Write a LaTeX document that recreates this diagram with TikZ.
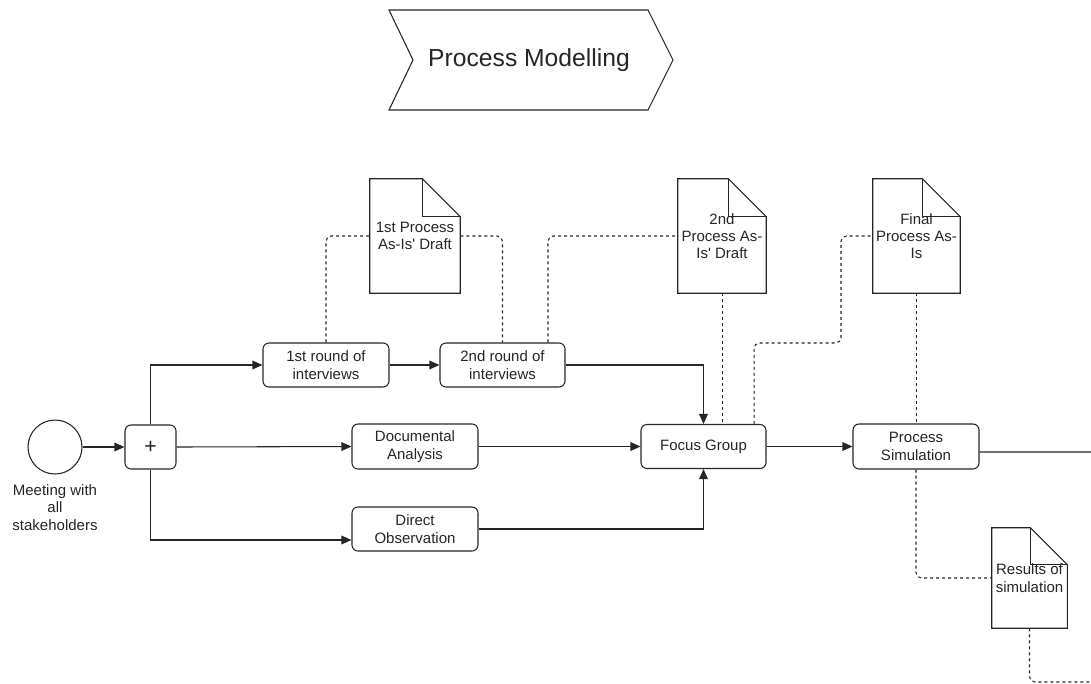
\documentclass[tikz,border=0pt]{standalone}
\usepackage{fontspec}
\setmainfont{Liberation Sans}[Ligatures=TeXOff]
\usetikzlibrary{arrows.meta,calc}
\tikzset{
 base/.style={font=\fontsize{11.25}{13}\selectfont, text=black!85, align=center},
 task/.style={base, draw=black!85, rounded corners=4.5pt, minimum width=94.5pt, minimum height=33pt, inner sep=0pt, line width=0.8pt},
 docnode/.style={base, inner sep=0pt},
 docline/.style={draw=black!85, line width=0.8pt},
 flow/.style={draw=black!85, line width=0.8pt, -{Triangle[length=7.5pt,width=6.5pt]}},
 plainflow/.style={draw=black!85, line width=0.8pt},
 assoc/.style={draw=black!85, line width=0.8pt, dash pattern=on 2.25pt off 2.25pt, rounded corners=4pt},
}
\newcommand{\docshape}[2]{%
 \draw[docline] (#1.north west) -- ([xshift=-#2]#1.north east) -- ([yshift=-#2]#1.north east) -- (#1.south east) -- (#1.south west) -- cycle;
 \draw[docline] ([xshift=-#2]#1.north east) |- ([yshift=-#2]#1.north east);}
\begin{document}
\begin{tikzpicture}[x=0.75pt,y=-0.75pt]
\path[fill=white,use as bounding box] (0,0) rectangle (1091,683);

% title chevron
\draw[docline] (389,10) -- (648,10) -- (673,60) -- (648,110) -- (389,110) -- (413,60) -- cycle;
\node[base, font=\fontsize{18.5}{22}\selectfont] (title) at (529,60) {Process Modelling};

% start event and gateway
\node[draw=black!85, line width=0.8pt, circle, minimum size=40.5pt, inner sep=0pt] (start) at (55,447) {};
\node[base, anchor=north] (startlbl) at (55,480) {Meeting with\\all\\stakeholders};
\node[task, minimum width=38.25pt, minimum height=33pt, font=\fontsize{16}{18}\selectfont] (gw) at (150.5,447) {+};

% tasks
\node[task] (r1) at (326,365) {1st round of\\interviews};
\node[task, minimum width=93.75pt] (r2) at (502.5,365) {2nd round of\\interviews};
\node[task, minimum height=33.75pt] (da) at (415,446.5) {Documental\\Analysis};
\node[task] (dob) at (415,529) {Direct\\Observation};
\node[task, minimum width=93.75pt] (fg) at (703.5,446.5) {Focus Group};
\node[task, minimum height=33.75pt] (ps) at (916,446.5) {Process\\Simulation};

% documents
\node[docnode, minimum width=67.5pt, minimum height=85.5pt] (d1) at (415,236) {1st Process\\As-Is' Draft};
\node[docnode, minimum width=66pt, minimum height=85.5pt] (d2) at (722,236) {2nd\\Process As-\\Is' Draft};
\node[docnode, minimum width=65.25pt, minimum height=85.5pt] (d3) at (916.5,236) {Final\\Process As-\\Is};
\node[docnode, minimum width=56.25pt, minimum height=75pt] (d4) at (1029.5,578) {Results of\\simulation};
\docshape{d1}{28.5pt}
\docshape{d2}{28.5pt}
\docshape{d3}{28.5pt}
\docshape{d4}{27.75pt}

% free ends
\coordinate (psout) at (1091,452);
\coordinate (d4out) at (1091,682);
\coordinate (bend1) at (841,343);

% sequence flows
\draw[flow] (start) -- (gw);
\draw[flow] (gw.north) |- (r1.west);
\draw[flow] (gw.east) -- (da.west);
\draw[flow] (gw.south) |- ([yshift=-8.25pt]dob.west);
\draw[flow] (r1.east) -- (r2.west);
\draw[flow] (r2.east) -| (fg.north);
\draw[flow] (da.east) -- (da.east -| fg.west);
\draw[flow] (dob.east) -| (fg.south);
\draw[flow] (fg.east) -- (fg.east -| ps.west);
\draw[plainflow] ([yshift=-4.1pt]ps.east) -- (psout);

% associations
\draw[assoc] (r1.north) |- (d1.west);
\draw[assoc] (d1.east) -| (r2.north);
\draw[assoc] ([xshift=34.1pt]r2.north) |- (d2.west);
\draw[assoc] ([xshift=0.4pt]d2.south) -- ([xshift=0.4pt]d2.south |- fg.north);
\draw[assoc] ([xshift=37.9pt]fg.north) |- (bend1) |- (d3.west);
\draw[assoc] (d3.south) -- (d3.south |- ps.north);
\draw[assoc] (ps.south) |- (d4.west);
\draw[assoc] (d4.south) |- (d4out);
\end{tikzpicture}
\end{document}
